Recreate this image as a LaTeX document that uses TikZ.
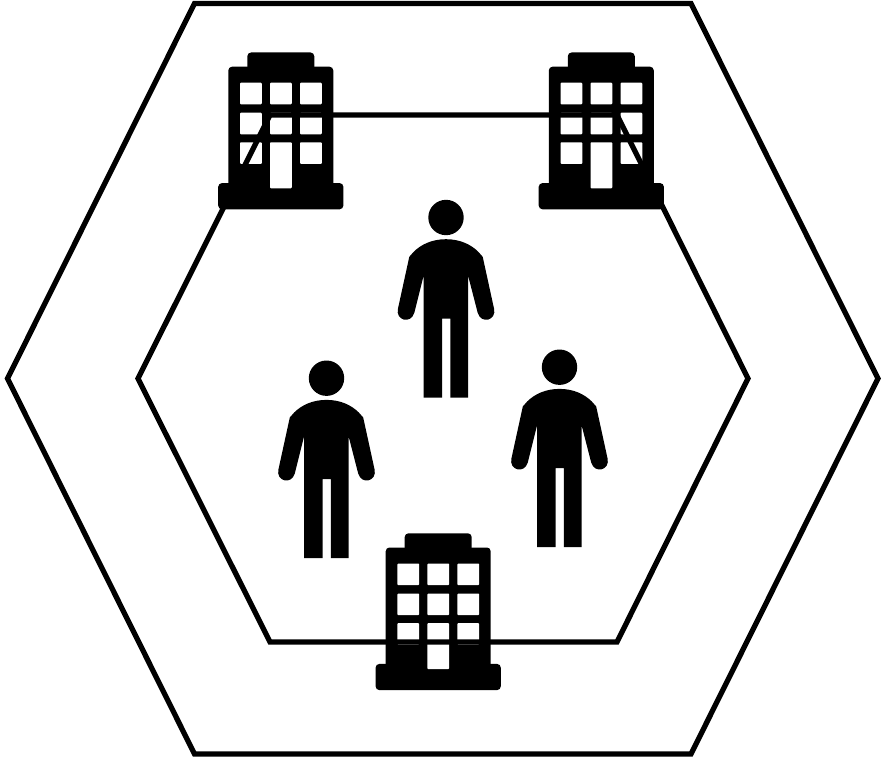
\documentclass[tikz,border=0pt]{standalone}
\usepackage{tikz}
\usetikzlibrary{positioning}

\begin{document}
\begin{tikzpicture}[
    x=0.03cm, y=-0.03cm,
    hexline/.style={draw=black, line width=4.5pt, line join=miter},
    icon/.style={fill=black, draw=none, rounded corners=3.2pt},
    pane/.style={fill=white, draw=none, rounded corners=0.8pt},
    building/.pic={
        \fill[icon] (-33.5,0) rectangle (33.5,30);
        \fill[icon] (-52.5,14.2) rectangle (52.5,140);
        \fill[icon] (-62.6,130.6) rectangle (62.6,156.8);
        \foreach \wx in {-40.8,-10.8,19.2} {
            \foreach \wy in {30.2,60.2} {
                \fill[pane] (\wx,\wy) rectangle ++(21.8,21.6);
            }
        }
        \fill[pane] (-40.8,89.8) rectangle ++(21.8,21.6);
        \fill[pane] (19.2,89.8) rectangle ++(21.8,21.6);
        \fill[pane] (-10.8,89.8) rectangle ++(21.8,46);
    },
    person/.pic={
        \fill (0,0) circle[radius=17.7*0.03cm];
        \fill (0,21.7) .. controls (-14,21.7) and (-25,27) .. (-32.3,34.3)
            -- (-36.7,39.3) -- (-48,91)
            .. controls (-51,103) and (-35,107) .. (-31.7,95.3)
            -- (-22.3,57.7) -- (-22.3,180) -- (-4,180) -- (-4,101) -- (4.3,101)
            -- (4.3,180) -- (22,180) -- (22,57.7) -- (31.7,95.3)
            .. controls (35,107) and (51,103) .. (48,91)
            -- (36.7,39.3) -- (32.3,34.3)
            .. controls (25,27) and (14,21.7) .. (0,21.7) -- cycle;
    }
]
\useasboundingbox (0,0) rectangle (882,759);

\coordinate (outerA) at (194.5,3.5);
\coordinate (outerB) at (691,3.5);
\coordinate (outerC) at (878,378.5);
\coordinate (outerD) at (691,754);
\coordinate (outerE) at (194.5,754);
\coordinate (outerF) at (7.5,378.5);

\coordinate (innerA) at (270,115);
\coordinate (innerB) at (617,115);
\coordinate (innerC) at (748,378.5);
\coordinate (innerD) at (617,642);
\coordinate (innerE) at (270,642);
\coordinate (innerF) at (138,378.5);

\pic (officeleft) at (280.8,52.5) {building};
\pic (officeright) at (601.3,52.5) {building};
\pic (officebottom) at (438.2,533.3) {building};

\pic (persontop) at (446,217.5) {person};
\pic (personleft) at (326.5,378.2) {person};
\pic (personright) at (559.5,367.2) {person};

\draw[hexline] (outerA) -- (outerB) -- (outerC) -- (outerD) -- (outerE) -- (outerF) -- cycle;
\draw[hexline] (innerA) -- (innerB) -- (innerC) -- (innerD) -- (innerE) -- (innerF) -- cycle;
\end{tikzpicture}
\end{document}
